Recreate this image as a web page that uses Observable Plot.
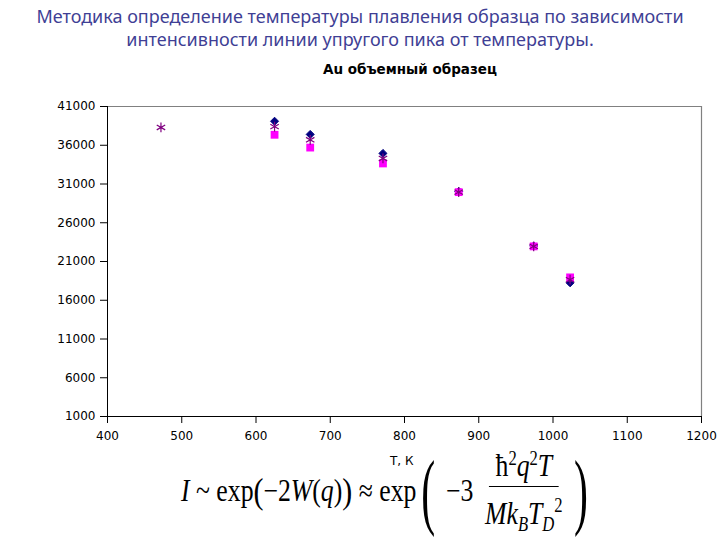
<!DOCTYPE html>
<html>
<head>
<meta charset="utf-8">
<script src="https://cdn.jsdelivr.net/npm/d3@7"></script>
<script src="https://cdn.jsdelivr.net/npm/@observablehq/plot@0.6"></script>
<style>
  html, body { margin: 0; padding: 0; background: #fff; }
  #page { position: relative; width: 720px; height: 540px; overflow: hidden; background: #fff; }
  #title { position: absolute; left: 0; top: 5px; width: 720px; text-align: center;
    font-family: "Comic Sans MS", "Noto Sans", sans-serif; font-size: 18px; line-height: 23px; color: #3f3f95; }
  #subtitle { position: absolute; left: 310px; top: 61px; width: 200px; text-align: center;
    font-family: "DejaVu Sans", sans-serif; font-weight: bold; font-size: 13.5px; color: #000; }
  #ylabel { position: absolute; left: 20px; top: 260px; transform: translate(-50%, -50%) rotate(-90deg);
    white-space: nowrap; font-family: "Liberation Sans", Arial, sans-serif; font-size: 13.5px; color: #000; }
  #xlabel { position: absolute; left: 390px; top: 454px; font-family: "DejaVu Sans", sans-serif; font-size: 12px; color: #000; }
  #chart { position: absolute; left: 0; top: 80px; }
  #formula { position: absolute; left: 181px; top: 451px; height: 80px; display: flex; align-items: center;
    font-family: "Liberation Serif", "Times New Roman", serif; font-size: 31px; color: #000; white-space: nowrap;
    transform-origin: left center; transform: scaleX(0.83); }
  #formula .p { font-size: 36px; }
  #formula .big { font-size: 84px; font-weight: 100; display: inline-block; transform: scaleX(0.6); line-height: 80px; }
  #formula .frac { display: inline-flex; flex-direction: column; align-items: center; margin: 0 2px 0 8px; }
  #formula .num { border-bottom: 1.5px solid #000; padding: 0 8px 3px 8px; line-height: 34px; }
  #formula .den { padding: 1px 6px 0 6px; line-height: 34px; }
  #formula sup { font-size: 20px; }
  #formula sub { font-size: 20px; }
</style>
</head>
<body>
<div id="page">
  <div id="title">Методика определение температуры плавления образца по зависимости<br>интенсивности линии упругого пика от температуры.</div>
  <div id="subtitle">Au объемный образец</div>
  <div id="ylabel">Интенсивность упругого пика, абс. ед.</div>
  <div id="chart"></div>
  <div id="xlabel">Т, К</div>
  <div id="formula"><i>I</i>&nbsp;~&nbsp;exp<span class="p">(</span>−2<i>W</i>(<i>q</i>)<span class="p">)</span>&nbsp;≈&nbsp;exp<span class="big">(</span>&nbsp;−3<span class="frac"><span class="num">ħ<sup>2</sup><i>q</i><sup>2</sup><i>T</i></span><span class="den"><i>Mk<sub>B</sub>T<sub>D</sub></i><sup>2</sup></span></span><span class="big">)</span></div>
</div>
<script>
// Data
const tempsDiamond = [625, 673, 771, 873, 974, 1023];
const intensityDiamond = [39100, 37400, 34950, 30050, 23000, 18250];
const tempsSquare = [625, 673, 771, 873, 974, 1023];
const intensitySquare = [37350, 35700, 33650, 29950, 22950, 18950];
const tempsStar = [472, 625, 673, 771, 873, 974, 1023];
const intensityStar = [38300, 38400, 36700, 34300, 29950, 22950, 18650];
const xTicks = [400, 500, 600, 700, 800, 900, 1000, 1100, 1200];
const yTicks = [1000, 6000, 11000, 16000, 21000, 26000, 31000, 36000, 41000];

const diamonds = tempsDiamond.map((t, i) => ({t, v: intensityDiamond[i]}));
const squares = tempsSquare.map((t, i) => ({t, v: intensitySquare[i]}));
const stars = tempsStar.map((t, i) => ({t, v: intensityStar[i]}));

const chart = Plot.plot({
  width: 720,
  height: 370,
  marginLeft: 107,
  marginRight: 19,
  marginTop: 26,
  marginBottom: 34,
  style: { fontFamily: "DejaVu Sans, sans-serif", background: "#fff", color: "#000" },
  x: { domain: [400, 1200] },
  y: { domain: [1000, 41000] },
  marks: [
    Plot.ruleY([41000], { stroke: "#808080", strokeWidth: 1.2 }),
    Plot.ruleX([1200], { stroke: "#808080", strokeWidth: 1.2 }),
    Plot.ruleX([400], { stroke: "#000", strokeWidth: 1 }),
    Plot.ruleY([1000], { stroke: "#000", strokeWidth: 1 }),
    Plot.axisY({ ticks: yTicks, tickSize: 7, tickPadding: 5, fontSize: 12, label: null, tickFormat: d3.format("d"), stroke: "#000" }),
    Plot.axisX({ ticks: xTicks, tickSize: 7, tickPadding: 8, fontSize: 12, label: null, tickFormat: d3.format("d"), stroke: "#000" }),
    Plot.dot(diamonds, { x: "t", y: "v", symbol: "diamond2", fill: "#000080", stroke: "#000080", strokeWidth: 1, r: 3.6 }),
    Plot.dot(squares, { x: "t", y: "v", symbol: "square", fill: "#ff00ff", r: 4.4 }),
    Plot.dot(stars, { x: "t", y: "v", symbol: "asterisk", stroke: "#800080", strokeWidth: 1.2, r: 4.6 })
  ]
});
document.getElementById("chart").appendChild(chart);
</script>
</body>
</html>
